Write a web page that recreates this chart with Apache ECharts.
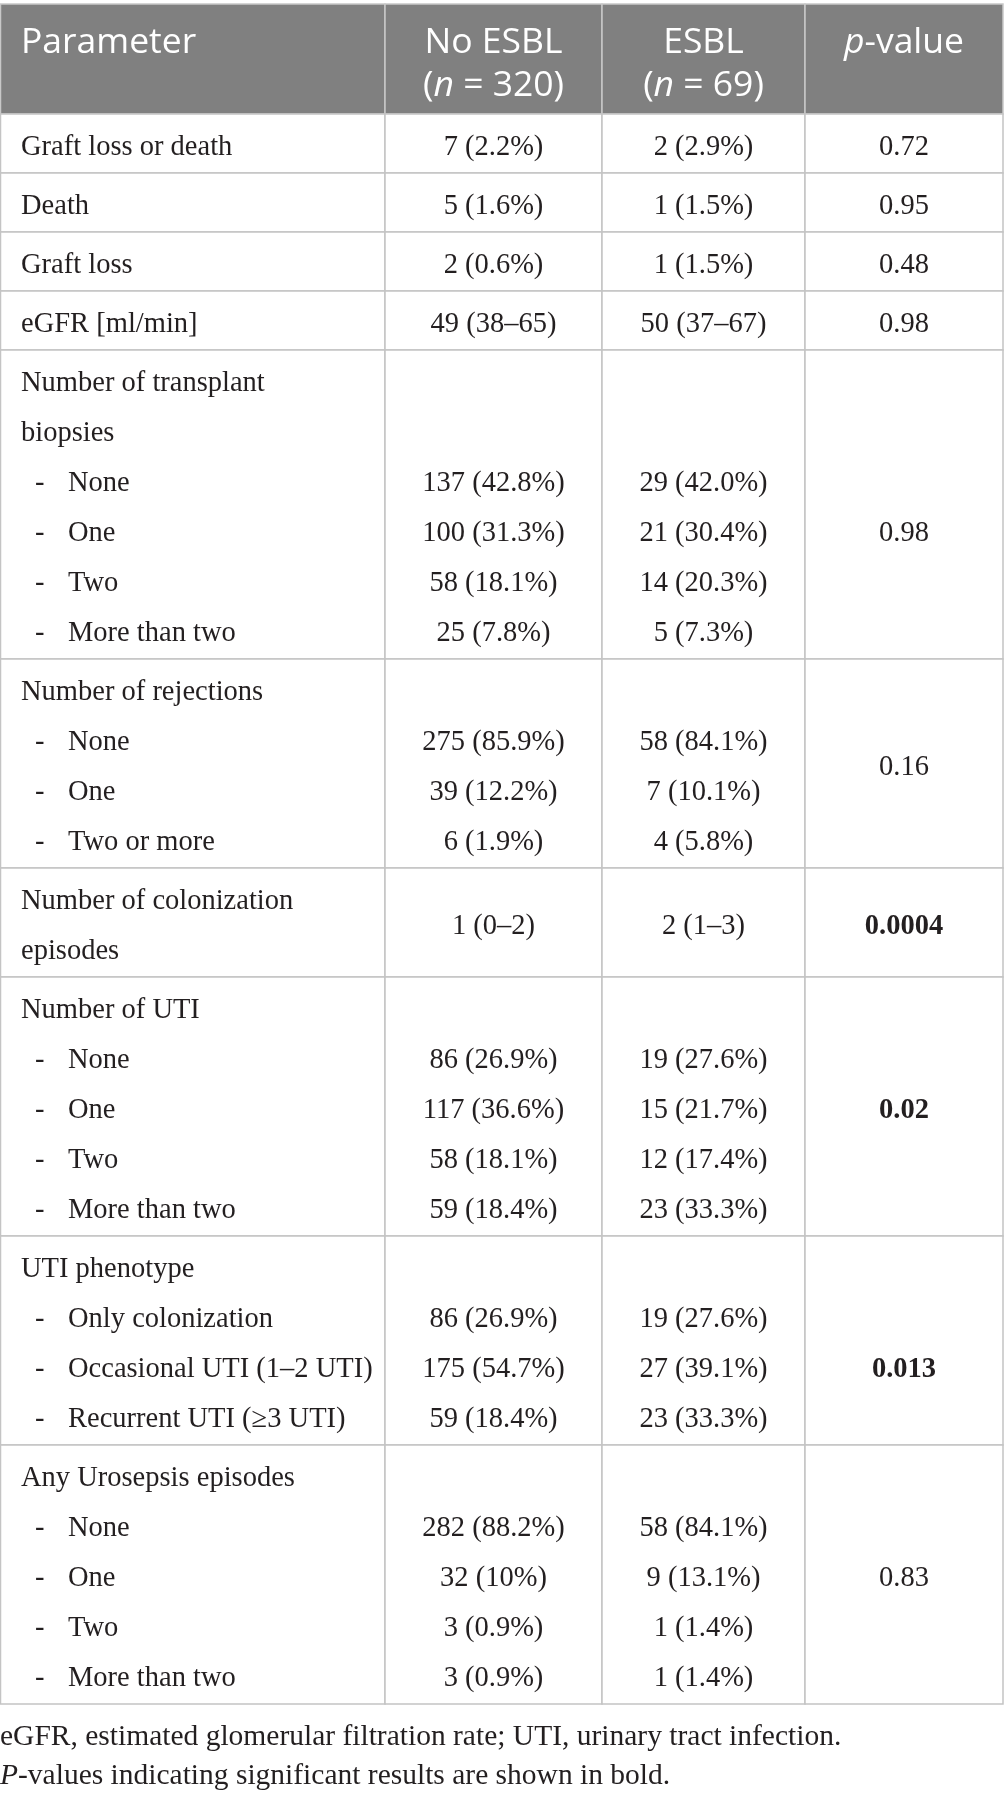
<!DOCTYPE html>
<html style="height: 100%; width: 100%">
  <head>
    <meta charset="utf-8" />
  </head>
  <body style="height: 100%; width: 100%; margin: 0; background: #ffffff">
    <div id="chart-panel" style="height: 1795px; width: 1004px"></div>
    <script
      type="text/javascript"
      src="https://cdn.jsdelivr.net/npm/echarts@6/dist/echarts.min.js"
    ></script>

    <script type="text/javascript">
      // ---- table content ----
      var headerTitles = ["Parameter", "No ESBL", "ESBL", "{i|p}-value"];
      var headerGroups = ["", "({i|n} = 320)", "({i|n} = 69)", ""];

      var parameters = [
        ["Graft loss or death"],
        ["Death"],
        ["Graft loss"],
        ["eGFR [ml/min]"],
        ["Number of transplant", "biopsies"],
        ["Number of rejections"],
        ["Number of colonization", "episodes"],
        ["Number of UTI"],
        ["UTI phenotype"],
        ["Any Urosepsis episodes"],
      ];
      var levels = [
        [],
        [],
        [],
        [],
        ["None", "One", "Two", "More than two"],
        ["None", "One", "Two or more"],
        [],
        ["None", "One", "Two", "More than two"],
        ["Only colonization", "Occasional UTI (1–2 UTI)", "Recurrent UTI (≥3 UTI)"],
        ["None", "One", "Two", "More than two"],
      ];
      var noEsblValues = [
        ["7 (2.2%)"],
        ["5 (1.6%)"],
        ["2 (0.6%)"],
        ["49 (38–65)"],
        ["137 (42.8%)", "100 (31.3%)", "58 (18.1%)", "25 (7.8%)"],
        ["275 (85.9%)", "39 (12.2%)", "6 (1.9%)"],
        ["1 (0–2)"],
        ["86 (26.9%)", "117 (36.6%)", "58 (18.1%)", "59 (18.4%)"],
        ["86 (26.9%)", "175 (54.7%)", "59 (18.4%)"],
        ["282 (88.2%)", "32 (10%)", "3 (0.9%)", "3 (0.9%)"],
      ];
      var esblValues = [
        ["2 (2.9%)"],
        ["1 (1.5%)"],
        ["1 (1.5%)"],
        ["50 (37–67)"],
        ["29 (42.0%)", "21 (30.4%)", "14 (20.3%)", "5 (7.3%)"],
        ["58 (84.1%)", "7 (10.1%)", "4 (5.8%)"],
        ["2 (1–3)"],
        ["19 (27.6%)", "15 (21.7%)", "12 (17.4%)", "23 (33.3%)"],
        ["19 (27.6%)", "27 (39.1%)", "23 (33.3%)"],
        ["58 (84.1%)", "9 (13.1%)", "1 (1.4%)", "1 (1.4%)"],
      ];
      var pValues = ["0.72", "0.95", "0.48", "0.98", "0.98", "0.16", "0.0004", "0.02", "0.013", "0.83"];
      var significant = [false, false, false, false, false, false, true, true, true, false];
      var footnotes = [
        "eGFR, estimated glomerular filtration rate; UTI, urinary tract infection.",
        "{i|P}-values indicating significant results are shown in bold.",
      ];

      // ---- layout (px, the axes run 1:1 with the canvas) ----
      var WIDTH = 1004;
      var HEIGHT = 1795;
      var colEdges = [0.5, 385, 602, 805, 1003];
      var HEAD_TOP = 4;
      var HEAD_BOTTOM = 114;
      var LINE = 50;
      var PAD = 9;
      var TEXT_OFF = 34; // first text line centre below the cell top
      // groups whose p-value sits on a given line instead of the cell middle
      var pLineOverride = { 4: 3, 8: 2 };

      var textStyles = {
        head: { color: "#ffffff", size: 35.5, family: "'Open Sans', 'Noto Sans', sans-serif", weight: "normal" },
        body: { color: "#231f20", size: 28.5, family: "'Liberation Serif', 'DejaVu Serif', serif", weight: "normal" },
        bold: { color: "#231f20", size: 28.5, family: "'Liberation Serif', 'DejaVu Serif', serif", weight: "bold" },
        note: { color: "#231f20", size: 29.5, family: "'Liberation Serif', 'DejaVu Serif', serif", weight: "normal" },
      };

      var cells = []; // [x0, y0, x1, y1, isHeader]
      var textItems = []; // {x, y, text, kind, align}

      function colCenter(c) {
        return (colEdges[c] + colEdges[c + 1]) / 2;
      }

      // header
      for (var c = 0; c < 4; c++) {
        cells.push([colEdges[c], HEAD_TOP, colEdges[c + 1], HEAD_BOTTOM, 1]);
        var hx = c === 0 ? 21 : colCenter(c);
        var al = c === 0 ? "left" : "center";
        textItems.push({ x: hx, y: 43, text: headerTitles[c], kind: "head", align: al });
        if (headerGroups[c]) {
          textItems.push({ x: hx, y: 86, text: headerGroups[c], kind: "head", align: al });
        }
      }

      // body
      var rowTop = HEAD_BOTTOM;
      function lineY(k) {
        return rowTop + TEXT_OFF + k * LINE;
      }
      for (var g = 0; g < parameters.length; g++) {
        var labelLines = parameters[g];
        var nLines = labelLines.length + levels[g].length;
        var rowBottom = rowTop + nLines * LINE + PAD;
        for (var c2 = 0; c2 < 4; c2++) {
          cells.push([colEdges[c2], rowTop, colEdges[c2 + 1], rowBottom, 0]);
        }
        labelLines.forEach(function (t, k) {
          textItems.push({ x: 21, y: lineY(k), text: t, kind: "body", align: "left" });
        });
        levels[g].forEach(function (t, k) {
          var ly = lineY(labelLines.length + k);
          textItems.push({ x: 35, y: ly, text: "-", kind: "body", align: "left" });
          textItems.push({ x: 68, y: ly, text: t, kind: "body", align: "left" });
        });
        // value columns: align with the levels, or centre in the cell
        [noEsblValues[g], esblValues[g]].forEach(function (list, vi) {
          list.forEach(function (t, k) {
            var line = levels[g].length ? labelLines.length + k : (nLines - 1) / 2;
            textItems.push({ x: colCenter(vi + 1), y: lineY(line), text: t, kind: "body", align: "center" });
          });
        });
        var pLine = pLineOverride[g] !== undefined ? pLineOverride[g] : (nLines - 1) / 2;
        textItems.push({
          x: colCenter(3),
          y: lineY(pLine),
          text: pValues[g],
          kind: significant[g] ? "bold" : "body",
          align: "center",
        });
        rowTop = rowBottom;
      }

      // footnotes
      footnotes.forEach(function (t, k) {
        textItems.push({ x: 0, y: rowTop + 33 + k * 39, text: t, kind: "note", align: "left" });
      });

      var dom = document.getElementById("chart-panel");
      var myChart = echarts.init(dom, null, { renderer: "canvas" });

      function renderCell(params, api) {
        var p0 = api.coord([api.value(0), api.value(1)]);
        var p1 = api.coord([api.value(2), api.value(3)]);
        var isHeader = api.value(4) === 1;
        return {
          type: "rect",
          shape: { x: p0[0], y: p0[1], width: p1[0] - p0[0], height: p1[1] - p0[1] },
          style: {
            fill: isHeader ? "#808080" : "#ffffff",
            stroke: isHeader ? "#c8c8c8" : "#c4c4c4",
            lineWidth: 1.5,
          },
        };
      }

      function renderText(params, api) {
        var item = textItems[params.dataIndex];
        var st = textStyles[item.kind];
        var pt = api.coord([api.value(0), api.value(1)]);
        return {
          type: "text",
          x: pt[0],
          y: pt[1],
          style: {
            text: item.text,
            fill: st.color,
            fontSize: st.size,
            fontFamily: st.family,
            fontWeight: st.weight,
            align: item.align,
            verticalAlign: "middle",
            rich: {
              i: {
                fontStyle: "italic",
                fontSize: st.size,
                fontFamily: st.family,
                fontWeight: st.weight,
                fill: st.color,
              },
            },
          },
        };
      }

      var option = {
        animation: false,
        backgroundColor: "#ffffff",
        grid: { left: 0, right: 0, top: 0, bottom: 0 },
        xAxis: { type: "value", min: 0, max: WIDTH, show: false },
        yAxis: { type: "value", min: 0, max: HEIGHT, inverse: true, show: false },
        series: [
          {
            type: "custom",
            renderItem: renderCell,
            encode: { x: [0, 2], y: [1, 3] },
            data: cells,
            clip: false,
            silent: true,
            z: 1,
          },
          {
            type: "custom",
            renderItem: renderText,
            encode: { x: 0, y: 1 },
            data: textItems.map(function (t) {
              return [t.x, t.y];
            }),
            clip: false,
            silent: true,
            z: 2,
          },
        ],
      };
      myChart.setOption(option);
    </script>
  </body>
</html>
